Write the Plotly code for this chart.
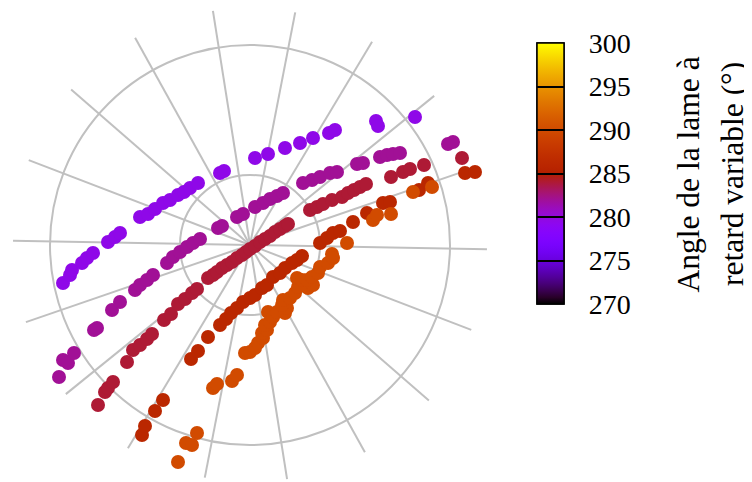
import numpy as np
import plotly.graph_objects as go

# ---- data: Cartesian components (outer grid circle = 2.0) ----
purple_x = [-1.87, -1.80, -1.78, -1.68, -1.63, -1.57, -1.42, -1.35, -1.30, -1.10, -1.02, -0.95,
            -0.87, -0.80, -0.72, -0.66, -0.60, -0.52, -0.30, -0.26, 0.05, 0.18, 0.35, 0.50,
            0.63, 0.79, 0.85, 1.26, 1.28, 1.65]
purple_y = [-0.38, -0.30, -0.25, -0.18, -0.13, -0.08, 0.03, 0.08, 0.12, 0.28, 0.31, 0.36,
            0.42, 0.45, 0.50, 0.53, 0.57, 0.62, 0.72, 0.74, 0.87, 0.91, 0.97, 1.02,
            1.07, 1.12, 1.15, 1.24, 1.19, 1.28]

magenta_x = [-1.91, -1.87, -1.82, -1.76, -1.56, -1.53, -1.38, -1.30, -1.15, -1.10, -1.03, -0.97,
             -0.83, -0.77, -0.70, -0.63, -0.57, -0.50, -0.32, -0.28, -0.13, -0.07, 0.05, 0.13,
             0.20, 0.27, 0.33, 0.53, 0.62, 0.70, 0.80, 0.87, 1.07, 1.13, 1.30, 1.37, 1.43,
             1.50, 1.98, 2.03]
magenta_y = [-1.32, -1.15, -1.18, -1.08, -0.85, -0.83, -0.65, -0.57, -0.45, -0.40, -0.35, -0.30,
             -0.18, -0.12, -0.07, -0.02, 0.02, 0.06, 0.17, 0.19, 0.28, 0.31, 0.38, 0.42,
             0.46, 0.49, 0.52, 0.62, 0.65, 0.68, 0.72, 0.73, 0.81, 0.82, 0.88, 0.90, 0.91,
             0.92, 1.01, 1.03]

crimson_x = [-1.62, -1.52, -1.45, -1.42, -1.37, -1.23, -1.17, -1.10, -1.03, -0.98, -0.86, -0.79,
             -0.72, -0.65, -0.58, -0.53, -0.42, -0.37, -0.33, -0.28, -0.23, -0.18, -0.13, -0.08,
             -0.04, 0.00, 0.05, 0.10, 0.15, 0.20, 0.25, 0.30, 0.35, 0.38, 0.60, 0.67, 0.73,
             0.82, 0.92, 0.98, 1.04, 1.10, 1.16, 1.41, 1.53, 1.60, 1.74, 2.12, 2.21]
crimson_y = [-1.78, -1.60, -1.47, -1.43, -1.37, -1.17, -1.05, -1.00, -0.94, -0.89, -0.75, -0.69,
             -0.59, -0.54, -0.48, -0.44, -0.33, -0.30, -0.27, -0.23, -0.20, -0.17, -0.13, -0.10,
             -0.07, -0.04, -0.01, 0.03, 0.06, 0.09, 0.13, 0.16, 0.19, 0.21, 0.35, 0.38, 0.41,
             0.45, 0.48, 0.52, 0.55, 0.58, 0.61, 0.68, 0.73, 0.76, 0.80, 0.87, 0.88]

red_x = [-1.08, -1.05, -0.95, -0.87, -0.59, -0.52, -0.42, -0.30, -0.24, -0.19, -0.13, -0.07,
         0.00, 0.05, 0.12, 0.17, 0.23, 0.30, 0.35, 0.42, 0.47, 0.52, 0.70, 0.77, 0.83, 0.90,
         1.03, 1.17, 1.33, 1.40, 1.69, 1.78, 2.15, 2.25]
red_y = [-1.90, -1.81, -1.66, -1.55, -1.14, -1.06, -0.92, -0.80, -0.74, -0.68, -0.63, -0.57,
         -0.53, -0.50, -0.43, -0.40, -0.32, -0.28, -0.23, -0.18, -0.15, -0.11, 0.02, 0.07, 0.12, 0.14,
         0.23, 0.32, 0.42, 0.43, 0.55, 0.62, 0.72, 0.73]

orange_x = [-0.72, -0.64, -0.58, -0.53, -0.37, -0.33, -0.18, -0.13, -0.05, 0.00, 0.05, 0.08,
            0.13, 0.12, 0.17, 0.15, 0.20, 0.18, 0.23, 0.27, 0.35, 0.37, 0.32, 0.33, 0.40, 0.45,
            0.48, 0.58, 0.63, 0.47, 0.52, 0.57, 0.62, 0.68, 0.70, 0.78, 0.82, 0.83, 0.97, 1.23,
            1.27, 1.41, 1.63, 1.82]
orange_y = [-2.17, -1.98, -2.00, -1.88, -1.43, -1.39, -1.36, -1.30, -1.08, -1.07, -1.03, -0.98,
            -0.93, -0.88, -0.85, -0.80, -0.77, -0.67, -0.72, -0.67, -0.68, -0.63, -0.60, -0.55, -0.53, -0.48,
            -0.42, -0.43, -0.40, -0.33, -0.35, -0.35, -0.32, -0.28, -0.22, -0.18, -0.09, -0.13, 0.02, 0.25,
            0.30, 0.31, 0.53, 0.58]

series_x = [purple_x, magenta_x, crimson_x, red_x, orange_x]
series_y = [purple_y, magenta_y, crimson_y, red_y, orange_y]
series_angle = [279.5, 282, 284, 286, 290]   # angle de la lame (°)

cbar_ticks = [270, 275, 280, 285, 290, 295, 300]
grid_circles = [0.7, 2.0]
spoke_angles = [(-1 + 20 * k) % 360 for k in range(18)]
title_lines = ["Angle de la lame à", "retard variable (°)"]

# gnuplot-like palette (rgbformulae 7,5,15)
stops = np.linspace(0, 1, 41)
gnuplot_scale = []
for t in stops:
    r = np.sqrt(t)
    g = t ** 3
    b = max(0.0, np.sin(2 * np.pi * t))
    gnuplot_scale.append([float(t), f"rgb({int(round(r*255))},{int(round(g*255))},{int(round(b*255))})"])

FONT = "Liberation Serif"
H_PLOT = 474.0  # plot-area height (px)

cb_common = dict(
    thickness=27, thicknessmode="pixels",
    len=261, lenmode="pixels",
    x=529 / 752, xanchor="left", xpad=0,
    y=(H_PLOT - 165.5) / H_PLOT, yanchor="middle", ypad=0,
    tickvals=cbar_ticks,
    outlinecolor="black", outlinewidth=1.5,
)
# colorbar carrying the labels
cb_labels = dict(cb_common, ticks="outside", ticklen=19, tickcolor="rgba(0,0,0,0)",
                 tickfont=dict(family=FONT, size=28, color="black"))
# colorbar carrying the black separators across the bar
cb_lines = dict(cb_common, ticks="inside", ticklen=27, tickwidth=1.5, tickcolor="black",
                showticklabels=False)

fig = go.Figure()
for i, (xs, ys, val) in enumerate(zip(series_x, series_y, series_angle)):
    xs = np.array(xs)
    ys = np.array(ys)
    r = np.hypot(xs, ys)
    th = np.degrees(np.arctan2(ys, xs))
    marker = dict(size=14, color=[val] * len(xs), colorscale=gnuplot_scale,
                  cmin=270, cmax=300, showscale=(i < 2), line=dict(width=0))
    if i == 0:
        marker["colorbar"] = cb_labels
    elif i == 1:
        marker["colorbar"] = cb_lines
    fig.add_trace(go.Scatterpolar(
        r=r, theta=th, mode="markers", cliponaxis=False,
        marker=marker, showlegend=False,
    ))

# colorbar title (two rotated lines)
title_x = [679.5 / 752, 724.5 / 752]
title_y = [(H_PLOT - 167) / H_PLOT, (H_PLOT - 166.5) / H_PLOT]
for txt, tx, ty in zip(title_lines, title_x, title_y):
    fig.add_annotation(text=txt, x=tx, y=ty, xref="paper", yref="paper",
                       xanchor="center", yanchor="middle", textangle=-90,
                       showarrow=False, font=dict(family=FONT, size=31.5, color="black"))

fig.update_layout(
    width=752, height=482,
    margin=dict(l=0, r=0, t=0, b=8),
    paper_bgcolor="white",
    font=dict(family=FONT, color="black"),
    polar=dict(
        domain=dict(x=[0, 484 / 752], y=[0, 1]),
        bgcolor="white",
        radialaxis=dict(range=[0, 2.37], tickmode="array", tickvals=grid_circles,
                        showticklabels=False, ticks="", showline=False,
                        gridcolor="rgb(192,192,192)", gridwidth=1.6),
        angularaxis=dict(tickmode="array", tickvals=spoke_angles, showticklabels=False,
                         ticks="", showline=False, rotation=0, direction="counterclockwise",
                         gridcolor="rgb(192,192,192)", gridwidth=1.6),
    ),
)

fig.write_html("out.html")
